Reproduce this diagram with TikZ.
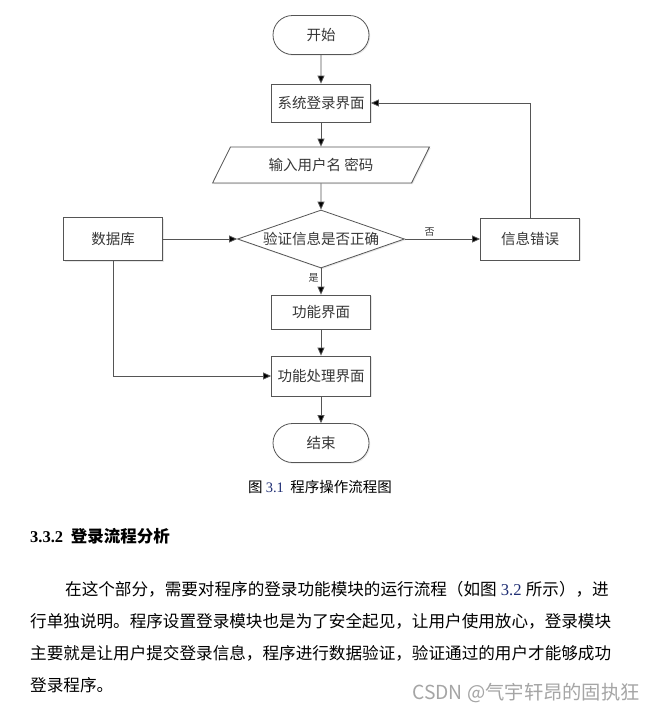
\documentclass[tikz,border=0pt]{standalone}
\usepackage{fontspec}
\setmainfont{Noto Sans CJK SC}
\newfontfamily\latin{Liberation Serif}
\usetikzlibrary{positioning,shapes.geometric,shapes.misc,arrows.meta,shadows}
\definecolor{linegray}{RGB}{85,85,85}
\definecolor{textgray}{RGB}{55,55,55}
\definecolor{refblue}{RGB}{30,45,115}
\definecolor{markgray}{RGB}{165,165,165}

\begin{document}
\begin{tikzpicture}[x=1pt, y=-1pt,
    base/.style={draw=linegray, line width=0.8pt, fill=white, text=textgray,
      font=\fontsize{14.5}{16}\selectfont, inner sep=2pt,
      drop shadow={shadow xshift=1.2pt, shadow yshift=-1.2pt, fill=black!18}},
    terminal/.style={base, rounded rectangle, minimum width=100pt, minimum height=39pt},
    process/.style={base, rectangle, minimum width=99pt, minimum height=38pt},
    io/.style={base, trapezium, trapezium left angle=58.6, trapezium right angle=121.4,
      trapezium stretches=true, minimum width=217pt, minimum height=36pt},
    decision/.style={base, diamond, aspect=2.9, inner sep=0pt, minimum width=167pt, minimum height=58pt},
    line/.style={draw=linegray, line width=0.8pt, -{Triangle[length=8pt,width=7pt]}},
    elbow/.style={to path={|- (\tikztotarget)}},
    tag/.style={font=\fontsize{10}{12}\selectfont, text=textgray, inner sep=2pt},
    txt/.style={anchor=west, inner sep=0pt, font=\fontsize{16.6}{18}\selectfont},
    node distance=68pt]
          \useasboundingbox[fill=white] (0,0) rectangle (657,716);
          % flow chart
          \node[terminal](start) at (321,35)                          {开始};
          \node[process](login)   [below of = start]                   {系统登录界面};
          \node[io, node distance=62pt](input)   [below of = login]    {输入用户名 密码};
          \node[decision, node distance=74pt](check) [below of = input] {验证信息是否正确};
          \node[process, minimum height=43pt, node distance=208pt](db)  [left of = check]  {数据库};
          \node[process, minimum height=42pt, node distance=209pt](err) [right of = check] {信息错误};
          \node[process, minimum height=34pt, node distance=73pt](func) [below of = check] {功能界面};
          \node[process, minimum height=40pt, node distance=64pt](proc) [below of = func]  {功能处理界面};
          \node[terminal, node distance=67pt](stop) [below of = proc]  {结束};
          \path[line]
            (start) edge (login)
            (login) edge (input)
            (input) edge (check)
            (db) edge (check)
            (check) edge node[tag, above, pos=0.33] {否} (err)
            (check) edge node[tag, left, pos=0.35] {是} (func)
            (err) edge[elbow] (login)
            (func) edge (proc)
            (db) edge[elbow] (proc)
            (proc) edge (stop)
            ;
          % caption and text
          \node[inner sep=0pt, font=\fontsize{14.5}{16}\selectfont](caption) at (320,487)
            {图 {\latin\color{refblue}3.1}\ \ 程序操作流程图};
          \node[txt, font=\bfseries\fontsize{16.5}{18}\selectfont](heading) at (30,536)
            {{\latin 3.3.2}\ \ 登录流程分析};
          \node[txt](line1) at (65,589)
            {在这个部分，需要对程序的登录功能模块的运行流程（如图{\latin\ {\color{refblue}3.2}\ }所示），进};
          \node[txt](line2) at (30,621) {行单独说明。程序设置登录模块也是为了安全起见，让用户使用放心，登录模块};
          \node[txt](line3) at (30,653) {主要就是让用户提交登录信息，程序进行数据验证，验证通过的用户才能够成功};
          \node[txt](line4) at (30,685) {登录程序。};
          \node[anchor=east, inner sep=0pt, text=markgray, font=\fontsize{19.3}{21}\selectfont](mark) at (640,693)
            {CSDN @气宇轩昂的固执狂};
        \end{tikzpicture}
\end{document}
